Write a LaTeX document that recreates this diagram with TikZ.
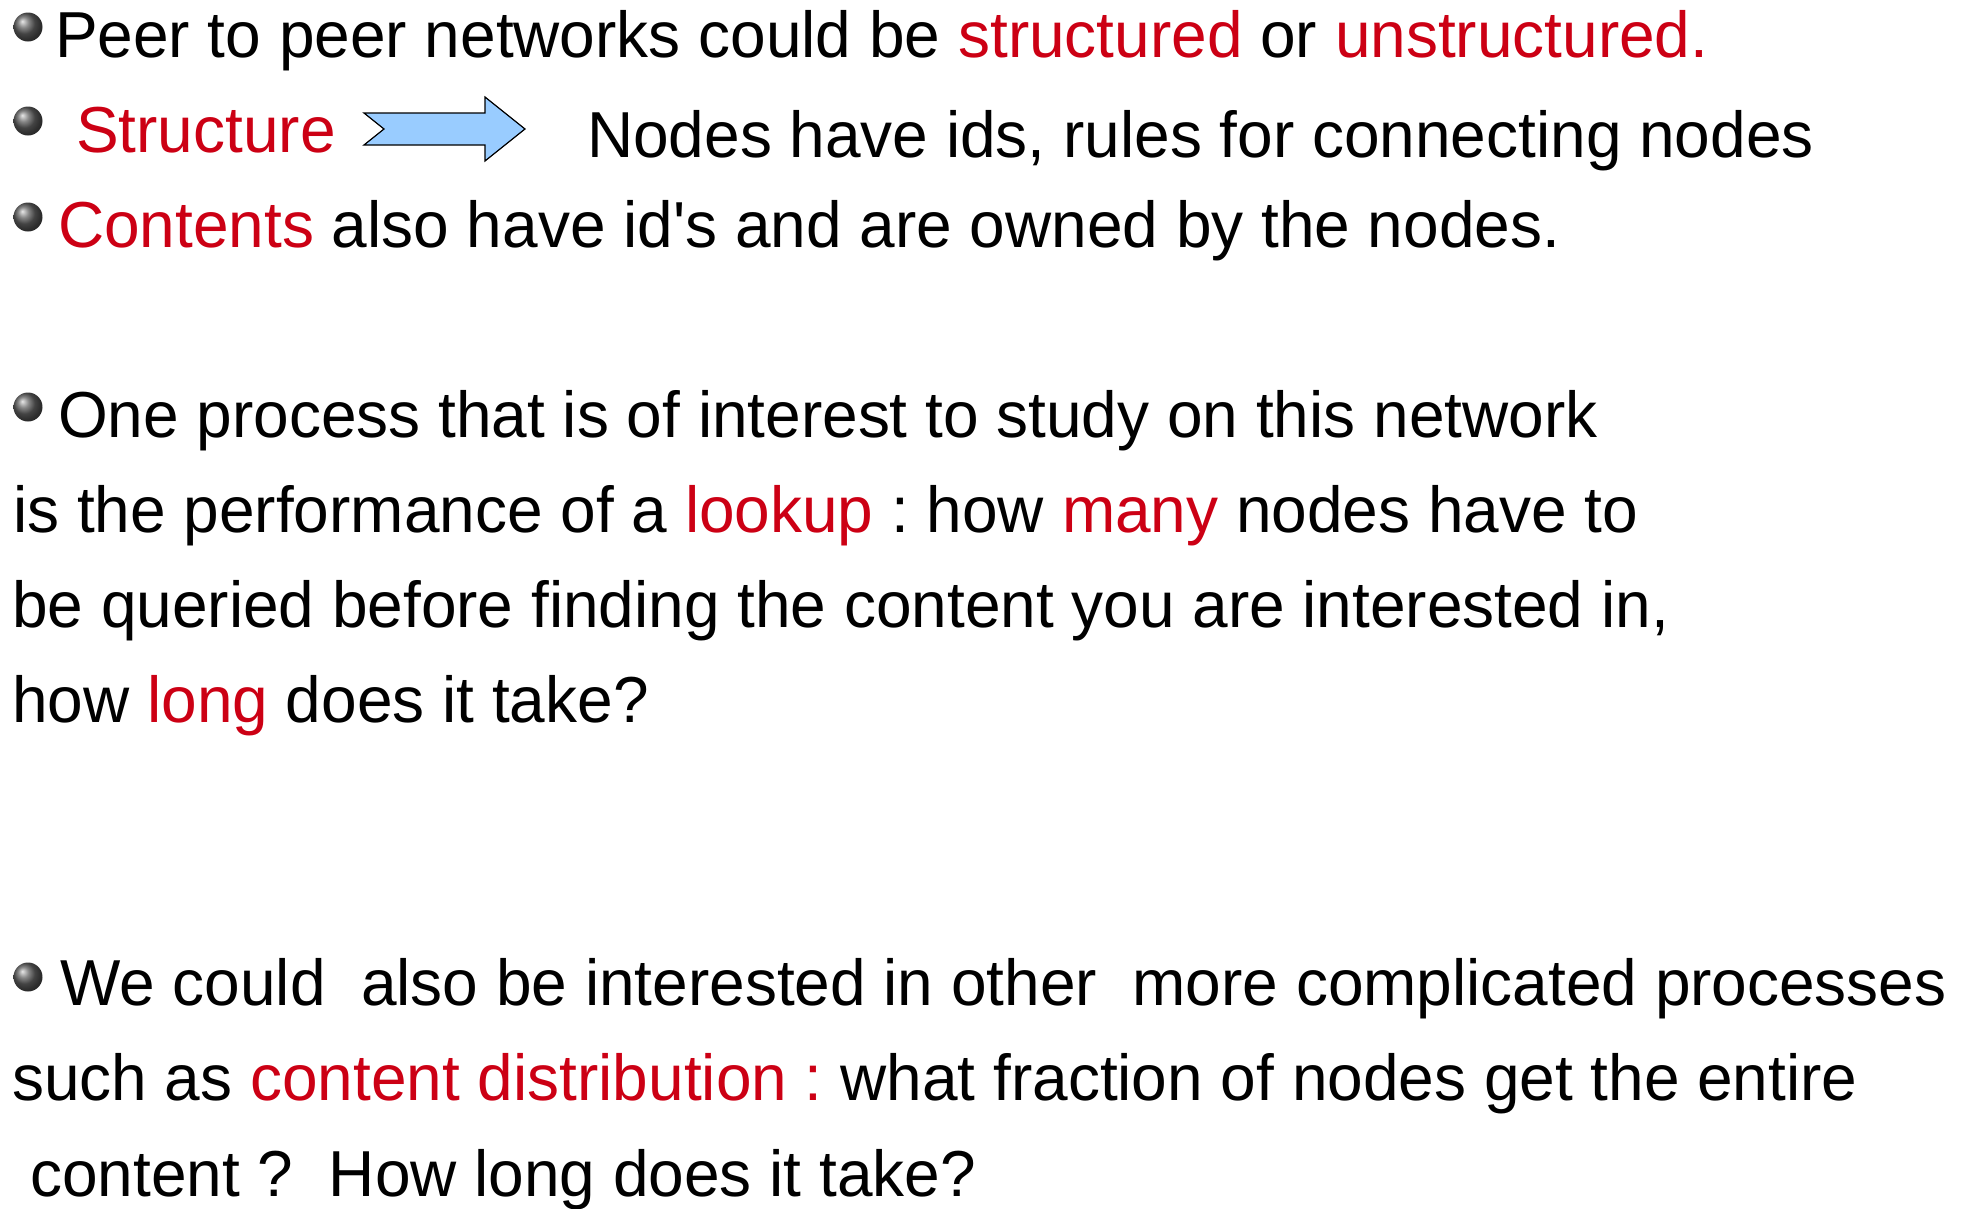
\documentclass[tikz,border=0pt]{standalone}
\usepackage{fontspec}
\setmainfont{Liberation Sans}[Ligatures=TeXOff, FakeStretch=0.984]
\usepackage{tikz}
\definecolor{hilite}{RGB}{204,0,20}
\definecolor{arrowblue}{RGB}{153,204,255}
\newcommand{\redtxt}[1]{\textcolor{hilite}{#1}}
\frenchspacing

\begin{document}
\begin{tikzpicture}[x=1pt,y=-1pt]

\tikzstyle{bullet} = [circle, inner sep=0pt, minimum size=29pt, ball color=gray!75!black]
\tikzstyle{line} = [anchor=base west, inner sep=0pt, font=\fontsize{65}{78}\selectfont]

\useasboundingbox (0,0) rectangle (1970,1208);

\node[bullet] (b1) at (28,27) {};
\node[line] (peer) at (55,57) {Peer to peer networks could be \redtxt{structured} or \redtxt{unstructured.}};

\node[bullet] (b2) at (28,121) {};
\node[line] (struct) at (76,152) {\redtxt{Structure}};
\node[line] (ids) at (587,157) {Nodes have ids, rules for connecting nodes};
\draw[fill=arrowblue, line width=1.2pt, line join=miter]
  (364,113) -- (485,113) -- (485,97) -- (525,129) -- (485,161) -- (485,145)
  -- (364,145) -- (384,129) -- cycle;

\node[bullet] (b3) at (28,217) {};
\node[line] (cont) at (58,247) {\redtxt{Contents} also have id's and are owned by the nodes.};

\node[bullet] (b4) at (28,407) {};
\node[line] (proc) at (58,437) {One process that is of interest to study on this network};
\node[line] (perf) at (13,532) {is the performance of a \redtxt{lookup} : how \redtxt{many} nodes have to};
\node[line] (query) at (12,627) {be queried before finding the content you are interested in,};
\node[line] (howlong) at (12,722) {how \redtxt{long} does it take?};

\node[bullet] (b5) at (28,977) {};
\node[line] (other) at (60,1005) {We could\ \ also be interested in other\ \ more complicated processes};
\node[line] (distr) at (12,1100) {such as \redtxt{content distribution :} what fraction of nodes get the entire};
\node[line] (whole) at (30,1196) {content ?\ \ How long does it take?};

\end{tikzpicture}
\end{document}
